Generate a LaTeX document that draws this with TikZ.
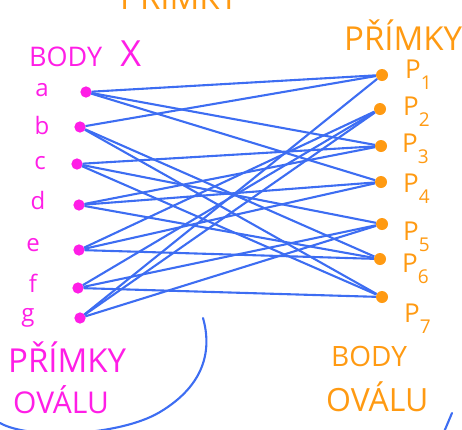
\documentclass[tikz,border=0pt]{standalone}
\usepackage{fontspec}
\setmainfont{Open Sans}
\definecolor{pen}{HTML}{3D6DF2}
\definecolor{mag}{HTML}{FF1EE6}
\definecolor{orng}{HTML}{FF9A12}
\newcommand\fs[1]{\fontsize{#1}{#1}\selectfont}
\newcommand\pl[1]{P\raisebox{-0.45em}{\fs{19}#1}}
\begin{document}
\begin{tikzpicture}[x=1pt,y=-1pt,
  ptL/.style={circle, draw=mag, fill=mag, line width=1.2pt, inner sep=0pt, minimum size=10pt},
  ptR/.style={circle, fill=orng, inner sep=0pt, minimum size=12pt},
  link/.style={draw=pen, line width=2.1pt},
  stroke/.style={draw=pen, line width=2.1pt, line cap=round},
  mtext/.style={text=mag, inner sep=0pt},
  otext/.style={text=orng, inner sep=0pt}]
\useasboundingbox (0,0) rectangle (462,429);
\clip (0,0) rectangle (462,429);

% points of the left column
\node[ptL] (a) at (86,92) {};
\node[ptL] (b) at (80,127) {};
\node[ptL] (c) at (77,164) {};
\node[ptL] (d) at (79,205) {};
\node[ptL] (e) at (79,250) {};
\node[ptL] (f) at (78,288) {};
\node[ptL] (g) at (80,318) {};

% points of the right column
\node[ptR] (P1) at (382,75) {};
\node[ptR] (P2) at (380,109) {};
\node[ptR] (P3) at (381,146) {};
\node[ptR] (P4) at (381,182) {};
\node[ptR] (P5) at (382,224) {};
\node[ptR] (P6) at (380,259) {};
\node[ptR] (P7) at (382,297) {};

% incidences
\foreach \u/\v in {a/P1, a/P3, a/P4, b/P1, b/P6, b/P7, c/P3, c/P5, c/P7,
                   d/P3, d/P4, d/P6, e/P2, e/P4, e/P6, f/P2, f/P5, f/P7,
                   g/P1, g/P2, g/P5}
  \draw[link] (\u) -- (\v);

% left labels
\node[mtext, font=\fs{27}, anchor=base west] (bodyx) at (29,66) {BODY\hspace{18pt}{\fs{36}X}};
\node[mtext, font=\fs{24}] (la) at (42,90) {a};
\node[mtext, font=\fs{24}] (lb) at (42,125) {b};
\node[mtext, font=\fs{24}] (lc) at (40,163) {c};
\node[mtext, font=\fs{24}] (ld) at (38,200) {d};
\node[mtext, font=\fs{24}] (le) at (33,245) {e};
\node[mtext, font=\fs{24}] (lf) at (33,283) {f};
\node[mtext, font=\fs{24}] (lg) at (28,318) {g};
\node[mtext, font=\fs{33}, anchor=base west] (lp) at (8,372) {PŘÍMKY};
\node[mtext, font=\fs{30}, anchor=base west] (lo) at (13,413) {OVÁLU};

% right labels
\node[otext, font=\fs{33}, anchor=base west] (top) at (120,9) {PŘÍMKY};
\node[otext, font=\fs{33}, anchor=base west] (rp) at (344,50) {PŘÍMKY};
\node[otext, font=\fs{26}, anchor=base west] (l1) at (405,78) {\pl{1}};
\node[otext, font=\fs{26}, anchor=base west] (l2) at (403,115) {\pl{2}};
\node[otext, font=\fs{26}, anchor=base west] (l3) at (402,152) {\pl{3}};
\node[otext, font=\fs{26}, anchor=base west] (l4) at (403,192) {\pl{4}};
\node[otext, font=\fs{26}, anchor=base west] (l5) at (403,240) {\pl{5}};
\node[otext, font=\fs{26}, anchor=base west] (l6) at (402,272) {\pl{6}};
\node[otext, font=\fs{26}, anchor=base west] (l7) at (404,322) {\pl{7}};
\node[otext, font=\fs{28}, anchor=base west] (rb) at (331,366) {BODY};
\node[otext, font=\fs{32}, anchor=base west] (ro) at (326,411) {OVÁLU};

% the oval, freehand
\draw[stroke] (203,318) .. controls (212,350) and (205,385) .. (160,412)
  .. controls (120,436) and (30,440) .. (0,423);
\draw[stroke] (452,413) -- (444,432);
\end{tikzpicture}
\end{document}
